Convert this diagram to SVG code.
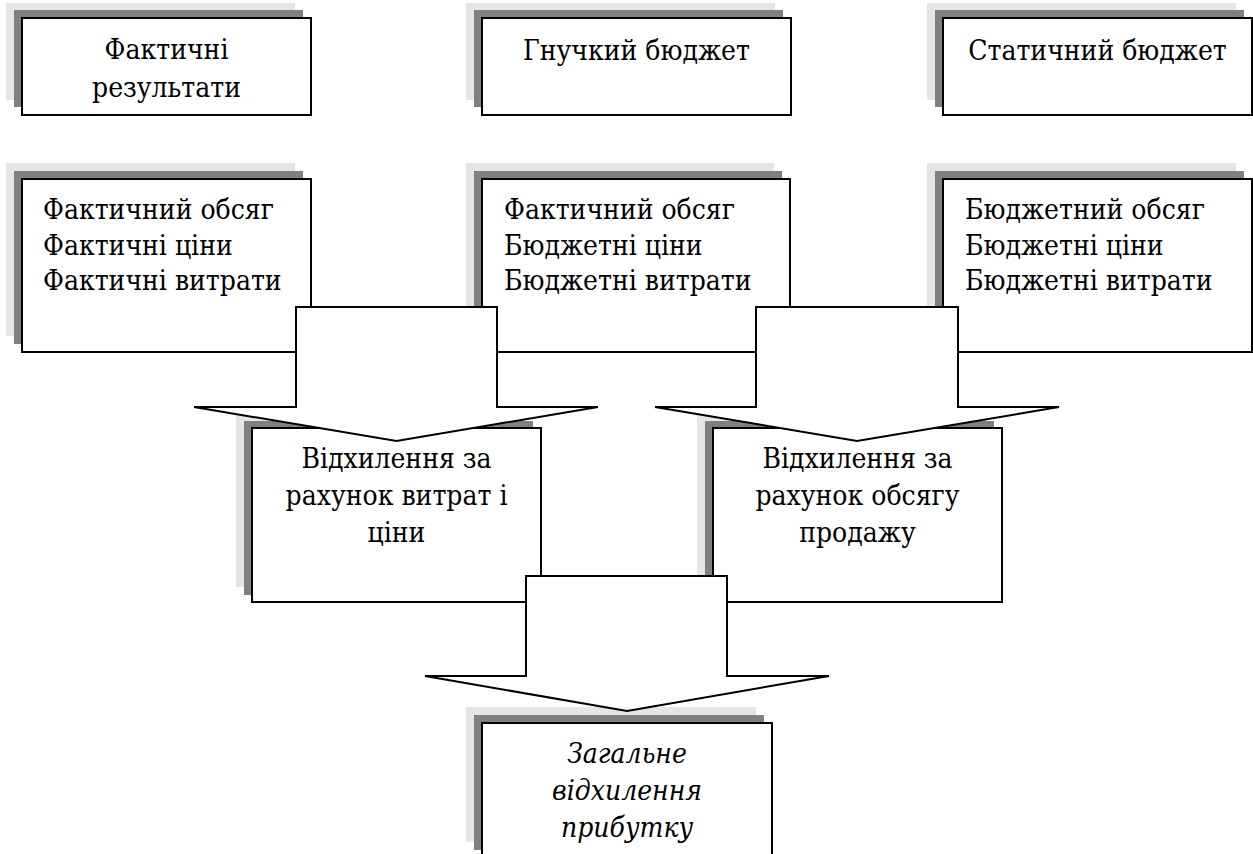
<svg xmlns="http://www.w3.org/2000/svg" width="1253" height="854" viewBox="0 0 1253 854">
<style>
.l{fill:#e5e5e5}
.d{fill:#808080}
.m{fill:#fff;stroke:#000;stroke-width:2}
.t{font-family:"DejaVu Serif Condensed","DejaVu Serif","Liberation Serif",serif;font-stretch:condensed;font-size:28px;fill:#000}
.c{text-anchor:middle}
.i{font-style:italic}
.a{fill:#fff;stroke:#000;stroke-width:2;stroke-linejoin:miter}
</style>
<rect width="1253" height="854" fill="#fff"/>
<g id="n1">
<rect class="l" x="6" y="3" width="289" height="97"/>
<rect class="d" x="14" y="10" width="289" height="97"/>
<rect class="m" x="22" y="18" width="289" height="97"/>
<text class="t c" x="166.5" y="59">Фактичні</text>
<text class="t c" x="166.5" y="97">результати</text>
</g>
<g id="n2">
<rect class="l" x="466" y="3" width="309" height="97"/>
<rect class="d" x="474" y="10" width="309" height="97"/>
<rect class="m" x="482" y="18" width="309" height="97"/>
<text class="t c" x="636.5" y="60">Гнучкий бюджет</text>
</g>
<g id="n3">
<rect class="l" x="927" y="3" width="309" height="97"/>
<rect class="d" x="935" y="10" width="309" height="97"/>
<rect class="m" x="943" y="18" width="309" height="97"/>
<text class="t c" x="1097.5" y="60">Статичний бюджет</text>
</g>
<g id="n4">
<rect class="l" x="6" y="163" width="289" height="173"/>
<rect class="d" x="14" y="171" width="289" height="173"/>
<rect class="m" x="22" y="179" width="289" height="173"/>
<text class="t" x="43" y="219">Фактичний обсяг</text>
<text class="t" x="43" y="255">Фактичні ціни</text>
<text class="t" x="43" y="290">Фактичні витрати</text>
</g>
<g id="n5">
<rect class="l" x="466" y="163" width="308" height="173"/>
<rect class="d" x="474" y="171" width="308" height="173"/>
<rect class="m" x="482" y="179" width="308" height="173"/>
<text class="t" x="504" y="219">Фактичний обсяг</text>
<text class="t" x="504" y="255">Бюджетні ціни</text>
<text class="t" x="504" y="290">Бюджетні витрати</text>
</g>
<g id="n6">
<rect class="l" x="927" y="163" width="309" height="173"/>
<rect class="d" x="935" y="171" width="309" height="173"/>
<rect class="m" x="943" y="179" width="309" height="173"/>
<text class="t" x="965" y="219">Бюджетний обсяг</text>
<text class="t" x="965" y="255">Бюджетні ціни</text>
<text class="t" x="965" y="290">Бюджетні витрати</text>
</g>
<g id="n7">
<rect class="l" x="236" y="413" width="289" height="174"/>
<rect class="d" x="244" y="421" width="289" height="174"/>
<rect class="m" x="252" y="428" width="289" height="174"/>
<text class="t c" x="396.5" y="468">Відхилення за</text>
<text class="t c" x="396.5" y="505">рахунок витрат і</text>
<text class="t c" x="396.5" y="542">ціни</text>
</g>
<g id="n8">
<rect class="l" x="697" y="413" width="289" height="174"/>
<rect class="d" x="705" y="421" width="289" height="174"/>
<rect class="m" x="713" y="428" width="289" height="174"/>
<text class="t c" x="857.5" y="468">Відхилення за</text>
<text class="t c" x="857.5" y="505">рахунок обсягу</text>
<text class="t c" x="857.5" y="542">продажу</text>
</g>
<g id="n9">
<rect class="l" x="466" y="707" width="290" height="135"/>
<rect class="d" x="474" y="715" width="290" height="135"/>
<rect class="m" x="482" y="723" width="290" height="140"/>
<text class="t c i" x="627" y="763">Загальне</text>
<text class="t c i" x="627" y="800">відхилення</text>
<text class="t c i" x="627" y="837">прибутку</text>
</g>
<g id="connectors">
<path class="a" d="M296,307 H497 V407 H598 L396.5,441 L194,407 H296 Z"/>
<path class="a" d="M756,307 H958 V407 H1059 L857,441 L655,407 H756 Z"/>
<path class="a" d="M526,576 H727 V676 H829 L627,711 L425,676 H526 Z"/>
</g>
</svg>
